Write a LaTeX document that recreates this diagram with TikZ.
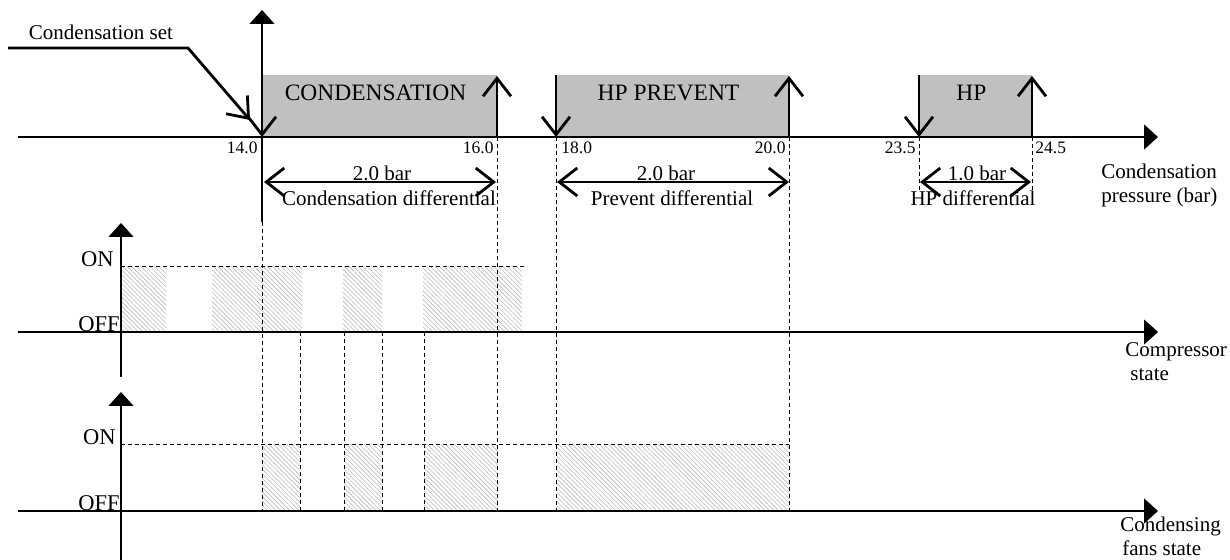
\documentclass[tikz,border=0pt]{standalone}
\usepackage{fontspec}
\setmainfont{Liberation Serif}
\usetikzlibrary{arrows.meta,patterns.meta}
\definecolor{zonagris}{HTML}{C0C0C0}
\begin{document}
\begin{tikzpicture}[x=0.5pt, y=-0.5pt,
		eje/.style={line width=0.6pt, -{Triangle[length=7pt, width=12.5pt]}},
		guia/.style={line width=0.5pt, dash pattern=on 2pt off 1.5pt},
		flecha/.style={line width=1.4pt, -{Straight Barb[length=9pt, width=14pt]}},
		dif/.style={line width=1.4pt, {Straight Barb[length=9pt, width=14pt]}-{Straight Barb[length=9pt, width=14pt]}},
		zona/.style={fill=zonagris},
		rayado/.style={pattern={Lines[angle=-45, distance=1.6pt, line width=0.3pt]}, pattern color=gray!55},
		etiq/.style={font=\fontsize{10.5}{12}\selectfont, inner sep=0pt},
		titulo/.style={font=\fontsize{11.75}{13}\selectfont, inner sep=0pt},
		num/.style={font=\fontsize{8.75}{10}\selectfont, inner sep=0pt},
		estado/.style={font=\fontsize{11.25}{12}\selectfont, inner sep=0pt, anchor=east}]
	\useasboundingbox (0,0) rectangle (1230,560);
	\foreach \a/\b/\txt in {262/497/CONDENSATION, 556/789/HP PREVENT, 919/1032/HP} {
		\fill[zona] (\a,75) rectangle (\b,137);
		\node[titulo] (z\a) at ({(\a+\b)/2-4},93) {\txt};
	}
	\foreach \a/\b in {121/166, 212/302, 343/382, 423/522}
		\path[rayado] (\a,267) rectangle (\b,332);
	\foreach \a/\b in {262/300, 344/382, 424/498, 557/789}
		\path[rayado] (\a,445) rectangle (\b,511);
	\coordinate (p0) at (18,137);   \coordinate (p1) at (1158,137);
	\coordinate (c0) at (18,332);   \coordinate (c1) at (1158,332);
	\coordinate (f0) at (18,511);   \coordinate (f1) at (1158,511);
	\coordinate (v0) at (262,222);  \coordinate (v1) at (262,10);
	\coordinate (vc0) at (121,377); \coordinate (vc1) at (121,223);
	\coordinate (vf0) at (121,560); \coordinate (vf1) at (121,392);
	\draw[guia] (v0) -- (262,511);
	\foreach \x in {497,556,789}
		\draw[guia] (\x,137) -- (\x,511);
	\foreach \x in {919,1032}
		\draw[guia] (\x,137) -- (\x,193);
	\foreach \x in {300,344,382,424}
		\draw[guia] (\x,332) -- (\x,511);
	\draw[guia] (121,267) -- (525,267);
	\draw[guia] (121,445) -- (789,445);
	\draw[eje] (p0) -- (p1);
	\draw[eje] (v0) -- (v1);
	\draw[eje] (c0) -- (c1);
	\draw[eje] (vc0) -- (vc1);
	\draw[eje] (f0) -- (f1);
	\draw[eje] (vf0) -- (vf1);
	\foreach \a/\b in {262/497, 556/789, 919/1032} {
		\draw[flecha] (\a,75) -- (\a,137);
		\draw[flecha] (\b,137) -- (\b,76);
	}
	\node[etiq] (cset) at (101,32) {Condensation set};
	\coordinate (s0) at (8,48); \coordinate (s1) at (188,48); \coordinate (s2) at (250,120);
	\draw[flecha] (s0) -- (s1) -- (s2);
	\node[num, anchor=east] (n14) at (258,148) {14.0};
	\node[num, anchor=east] (n16) at (494,148) {16.0};
	\node[num, anchor=west] (n18) at (561,148) {18.0};
	\node[num, anchor=east] (n20) at (786,148) {20.0};
	\node[num, anchor=east] (n235) at (916,148) {23.5};
	\node[num, anchor=west] (n245) at (1035,148) {24.5};
	\draw[dif] (264,182) -- (496,182);
	\draw[dif] (557,182) -- (789,182);
	\draw[dif] (920,182) -- (1031,182);
	\node[etiq] (b1) at (382,173) {2.0 bar};
	\node[etiq] (b2) at (666,173) {2.0 bar};
	\node[etiq] (b3) at (977,173) {1.0 bar};
	\node[etiq] (d1) at (389,198) {Condensation differential};
	\node[etiq] (d2) at (672,198) {Prevent differential};
	\node[etiq] (d3) at (973,198) {HP differential};
	\node[etiq, anchor=west, align=left] (lp) at (1101,185) {Condensation\\pressure (bar)};
	\node[etiq, anchor=west, align=left] (lc) at (1125,362) {Compressor\\\hspace*{2.5pt}state};
	\node[etiq, anchor=west, align=left] (lf) at (1120,536) {Condensing\\\hspace*{1pt}fans state};
	\node[estado] (con1) at (114,259) {ON};
	\node[estado] (coff1) at (120,324) {OFF};
	\node[estado] (con2) at (116,437) {ON};
	\node[estado] (coff2) at (120,503) {OFF};
\end{tikzpicture}
\end{document}
